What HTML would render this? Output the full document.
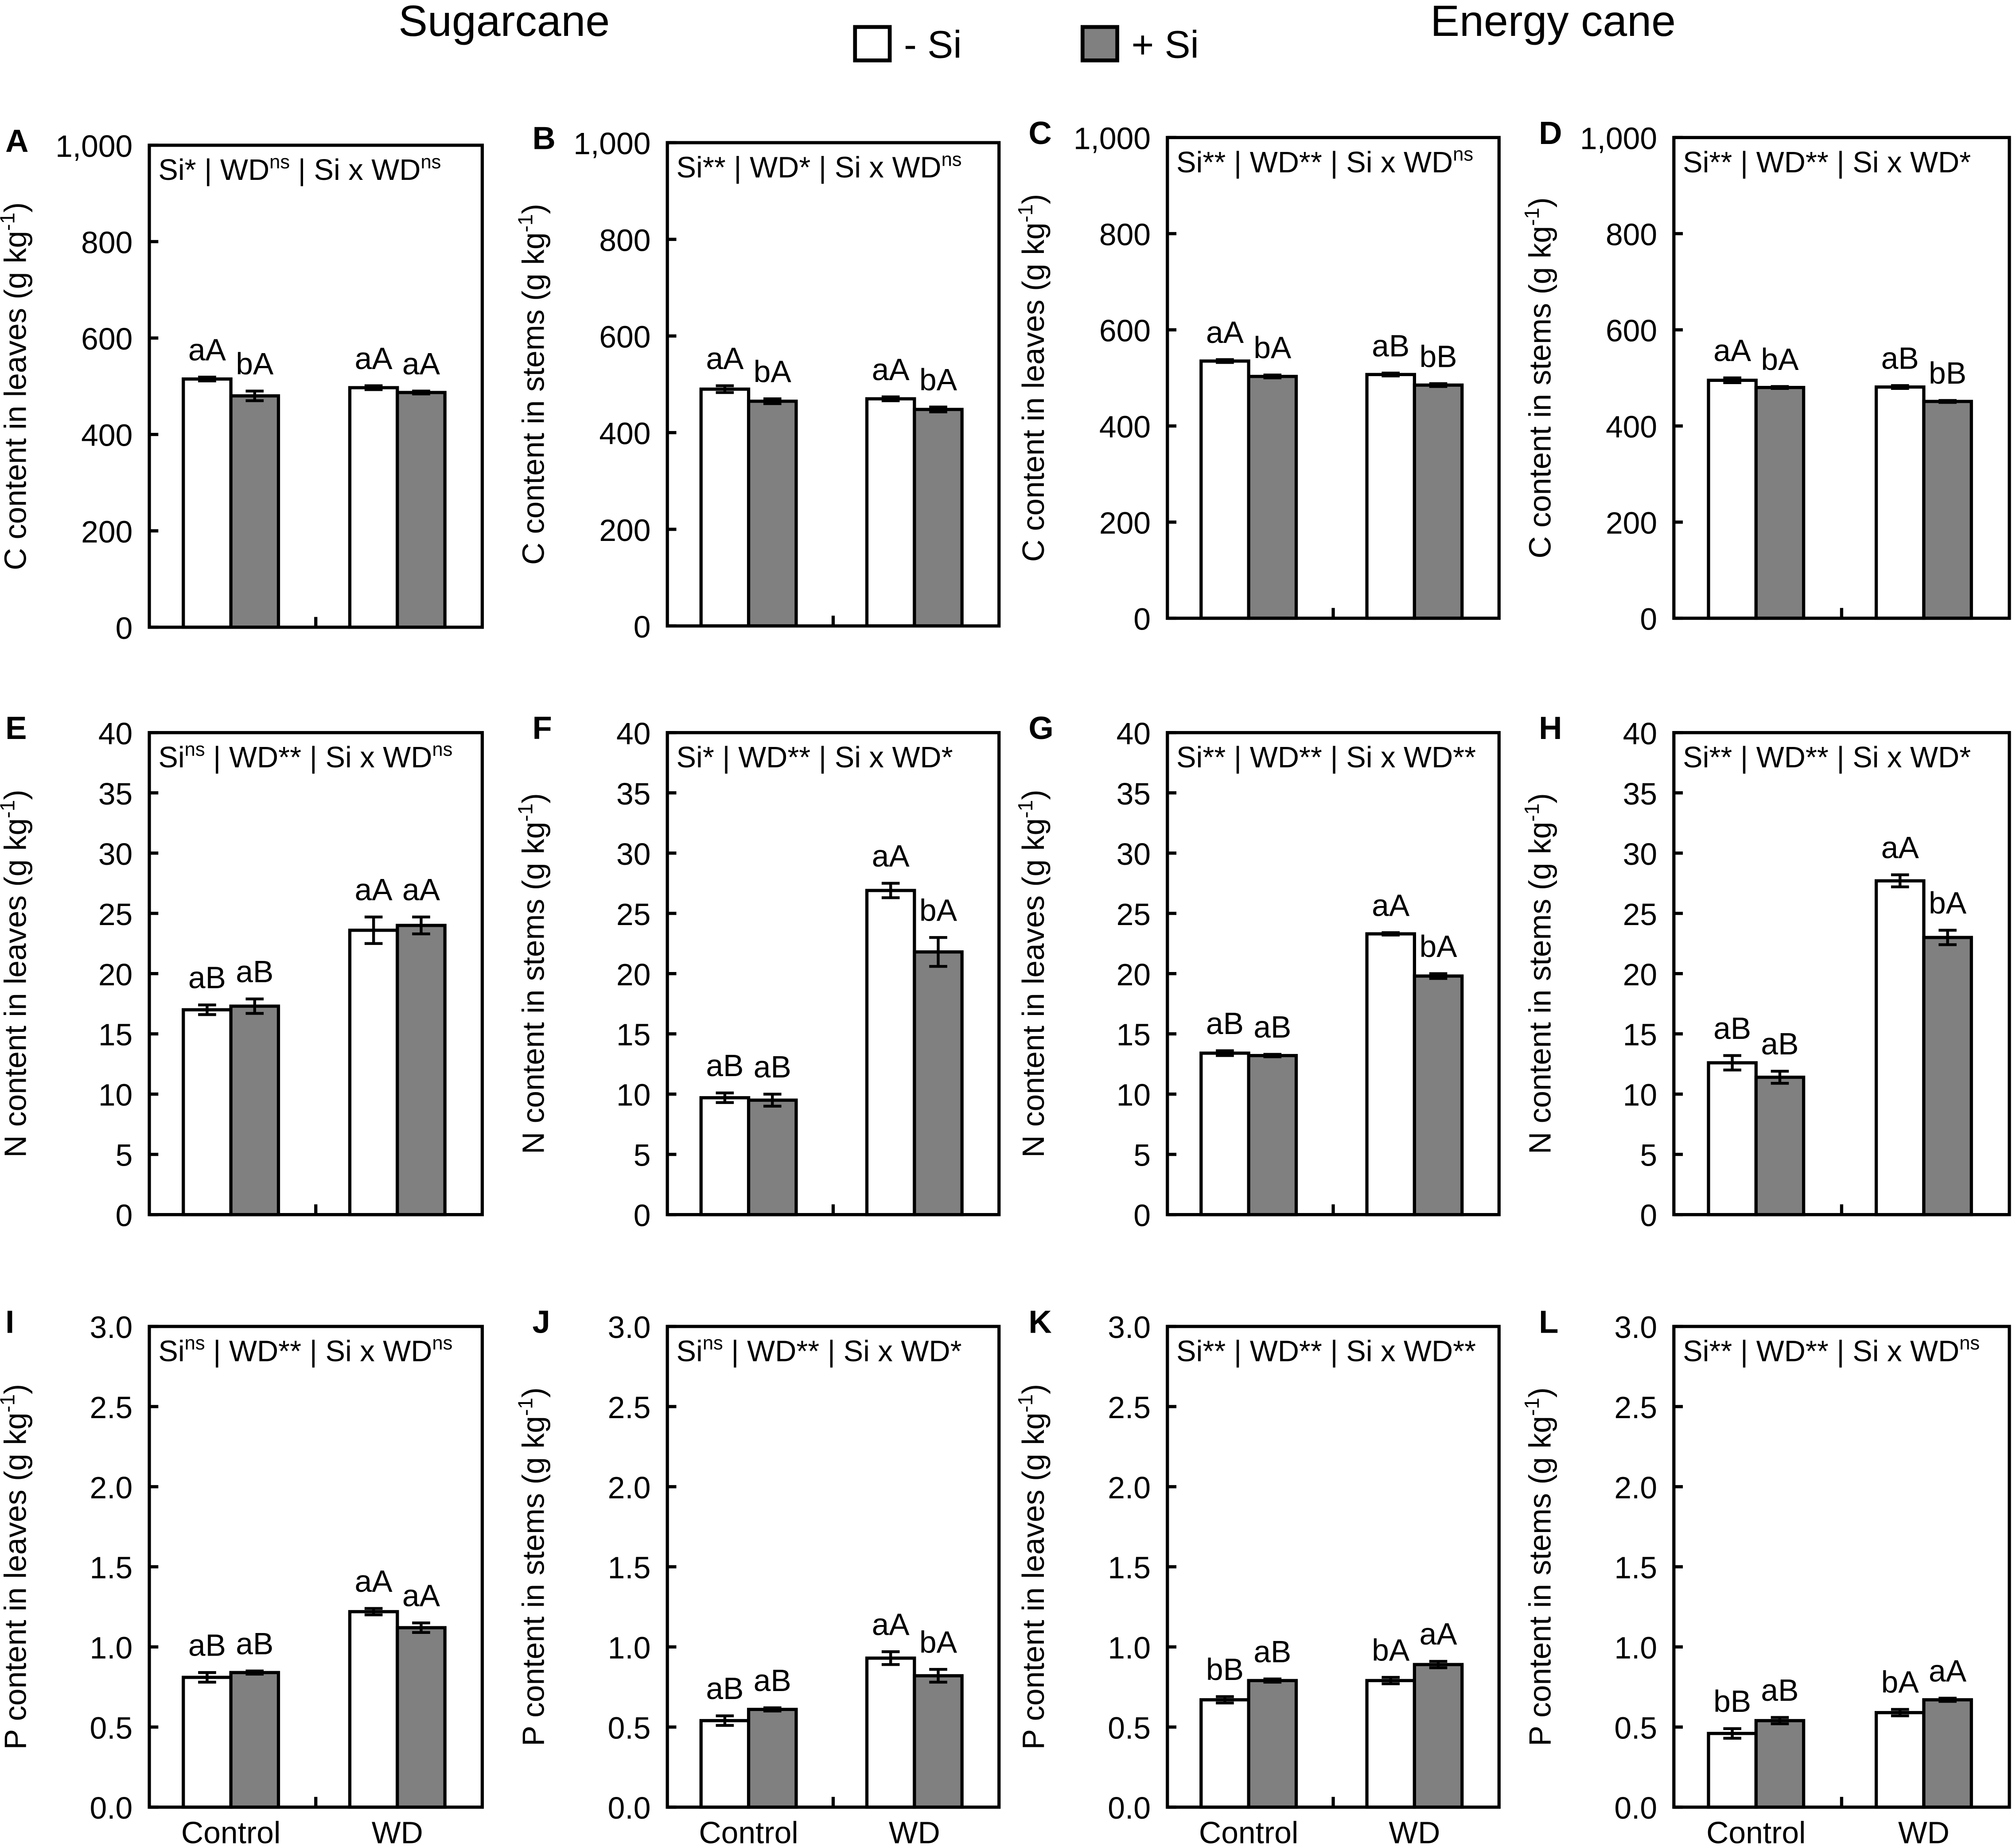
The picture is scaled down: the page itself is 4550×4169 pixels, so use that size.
<!DOCTYPE html>
<html><head><meta charset="utf-8"><style>
html,body{margin:0;padding:0;background:#fff}
svg{display:block}
text{font-family:"Liberation Sans",Arial,sans-serif;fill:#000}
</style></head><body>
<svg id="fig" xmlns="http://www.w3.org/2000/svg" width="4550" height="4169" viewBox="0 0 1568 1437">
<rect x="0" y="0" width="1568" height="1437" fill="#fff"/>
<text x="392" y="28" font-size="34" text-anchor="middle">Sugarcane</text>
<text x="1208" y="28" font-size="34" text-anchor="middle">Energy cane</text>
<g>
<rect x="665" y="21" width="27" height="26" fill="#fff" stroke="#000" stroke-width="3"/>
<text x="703" y="45" font-size="30">- Si</text>
<rect x="842" y="21" width="27" height="26" fill="#808080" stroke="#000" stroke-width="3"/>
<text x="880" y="45" font-size="30">+ Si</text>
</g>
<g id="panels"></g>
</svg>
<script>
const categories = ["Control","WD"];
const panelIds = ["A","B","C","D","E","F","G","H","I","J","K","L"];
const meansNoSi = [[515,497],[490,470],[535,507],[495,481],[17.0,23.6],[9.7,26.9],[13.4,23.3],[12.6,27.7],[0.81,1.22],[0.54,0.93],[0.67,0.79],[0.46,0.59]];
const errNoSi = [[4,4],[7,4],[3,3],[5,3],[0.4,1.1],[0.4,0.6],[0.2,0.1],[0.6,0.5],[0.03,0.02],[0.03,0.04],[0.02,0.02],[0.03,0.02]];
const meansSi = [[480,487],[465,448],[503,485],[480,451],[17.3,24.0],[9.5,21.8],[13.2,19.8],[11.4,23.0],[0.84,1.12],[0.61,0.82],[0.79,0.89],[0.54,0.67]];
const errSi = [[10,3],[5,5],[3,3],[2,2],[0.6,0.7],[0.5,1.2],[0.1,0.2],[0.5,0.6],[0.01,0.03],[0.01,0.04],[0.01,0.02],[0.02,0.01]];
const lettersNoSi = [["aA","aA"],["aA","aA"],["aA","aB"],["aA","aB"],["aB","aA"],["aB","aA"],["aB","aA"],["aB","aA"],["aB","aA"],["aB","aA"],["bB","bA"],["bB","bA"]];
const lettersSi = [["bA","aA"],["bA","bA"],["bA","bB"],["bA","bB"],["aB","aA"],["aB","bA"],["aB","bA"],["aB","bA"],["aB","aA"],["aB","bA"],["aB","aA"],["aB","aA"]];
const yTicksC = [0,200,400,600,800,1000];
const yTickLabelsC = ["0","200","400","600","800","1,000"];
const yTicksN = [0,5,10,15,20,25,30,35,40];
const yTicksP = [0,0.5,1.0,1.5,2.0,2.5,3.0];
const yTickLabelsP = ["0.0","0.5","1.0","1.5","2.0","2.5","3.0"];
const statsText = [
 [["Si","*"],["WD","ns"],["Si x WD","ns"]],
 [["Si","**"],["WD","*"],["Si x WD","ns"]],
 [["Si","**"],["WD","**"],["Si x WD","ns"]],
 [["Si","**"],["WD","**"],["Si x WD","*"]],
 [["Si","ns"],["WD","**"],["Si x WD","ns"]],
 [["Si","*"],["WD","**"],["Si x WD","*"]],
 [["Si","**"],["WD","**"],["Si x WD","**"]],
 [["Si","**"],["WD","**"],["Si x WD","*"]],
 [["Si","ns"],["WD","**"],["Si x WD","ns"]],
 [["Si","ns"],["WD","**"],["Si x WD","*"]],
 [["Si","**"],["WD","**"],["Si x WD","**"]],
 [["Si","**"],["WD","**"],["Si x WD","ns"]]
];
const yTitles = ["C content in leaves","C content in stems","C content in leaves","C content in stems",
 "N content in leaves","N content in stems","N content in leaves","N content in stems",
 "P content in leaves","P content in stems","P content in leaves","P content in stems"];

const NS="http://www.w3.org/2000/svg";
const root=document.getElementById('panels');
function mk(tag,attrs,parent){const e=document.createElementNS(NS,tag);for(const k in attrs)e.setAttribute(k,attrs[k]);(parent||root).appendChild(e);return e;}

const colX=[[116,375],[519,777],[908,1166],[1302,1563]];
const rowY=[[[113,488],[111,487],[107,481],[107,481]],[[570,945],[570,945],[570,945],[570,945]],[[1032,1406],[1032,1406],[1032,1406],[1032,1406]]];
const panelLetterX=[4,414,800,1197];

panelIds.forEach((id,i)=>{
 const r=Math.floor(i/4), c=i%4;
 const [x0,x1]=colX[c]; const [yTop,yBot]=rowY[r][c];
 const ticks = r===0?yTicksC:(r===1?yTicksN:yTicksP);
 const labels = r===0?yTickLabelsC:(r===1?yTicksN.map(String):yTickLabelsP);
 const ymax = ticks[ticks.length-1];
 const ys=v=>yBot-(v/ymax)*(yBot-yTop);
 const w=x1-x0;
 const xc=k=>x0+w*(k===0?0.245:0.745);
 const bw=37;
 const g=mk('g',{});
 
 
 const pl=mk('text',{x:panelLetterX[c],y:yTop+5,'font-size':25,'font-weight':'bold'},g);
 pl.textContent=id;
 
 
 ticks.forEach((t,k)=>{
  const y=ys(t);
  const tl=mk('line',{x1:x0,x2:x0+7,y1:y,y2:y,stroke:'#000','stroke-width':2.5},g);
  
  
  const tx=mk('text',{x:x0-13,y:y+9,'font-size':24,'text-anchor':'end'},g);
  tx.textContent=labels[k];
  
  
 });
 const mt=mk('line',{x1:x0+w/2,x2:x0+w/2,y1:yBot,y2:yBot-8,stroke:'#000','stroke-width':2.5},g);
 
 
 const yt=mk('text',{transform:`translate(${x0-96},${(yTop+yBot)/2}) rotate(-90)`,'font-size':24,'text-anchor':'middle'},g);
 yt.innerHTML=yTitles[i]+' (g kg<tspan dy="-9" font-size="16">-1</tspan><tspan dy="9">)</tspan>';
 
 
 categories.forEach((cat,k)=>{
  const cx=xc(k);
  [[meansNoSi,errNoSi,lettersNoSi,'#fff',cx-bw,'minus-si'],[meansSi,errSi,lettersSi,'#808080',cx,'plus-si']].forEach(([m,e,L,fill,bx,nm])=>{
   const v=m[i][k], er=e[i][k];
   const b=mk('rect',{x:bx,y:ys(v),width:bw,height:yBot-ys(v),fill:fill,stroke:'#000','stroke-width':2.5},g);
   
   
   const mx=bx+bw/2;
   const eb=mk('path',{d:`M${mx},${ys(v+er)}V${ys(v-er)}M${mx-7},${ys(v+er)}H${mx+7}M${mx-7},${ys(v-er)}H${mx+7}`,stroke:'#000','stroke-width':2.2,fill:'none'},g);
   
   
   const lt=mk('text',{x:mx,y:ys(v+er)-13,'font-size':24,'text-anchor':'middle'},g);
   lt.textContent=L[i][k];
   
   
  });
  if(r===2){
   const cl=mk('text',{x:cx,y:yBot+28,'font-size':24,'text-anchor':'middle'},g);
   cl.textContent=cat;
   
   
  }
 });
 const st=mk('text',{x:x0+7,y:yTop+27,'font-size':23},g);
 let html='', raised=false;
 statsText[i].forEach(([a,s],j)=>{
  const pre=(j>0?' | ':'')+a;
  html+=`<tspan dy="${raised?9:0}">${pre}</tspan>`; raised=false;
  if(s==='ns'){html+='<tspan dy="-9" font-size="15">ns</tspan>'; raised=true;}
  else html+=`<tspan>${s}</tspan>`;
 });
 st.innerHTML=html;
 
 
 const fr=mk('rect',{x:x0,y:yTop,width:w,height:yBot-yTop,fill:'none',stroke:'#000','stroke-width':2.5},g);
 
 
});
</script>
</body></html>
